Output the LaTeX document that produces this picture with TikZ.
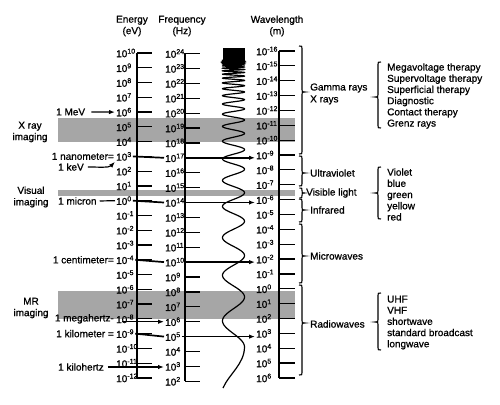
\documentclass[tikz,border=0pt]{standalone}
\usepackage{fontspec}
\setmainfont{Liberation Sans}[BoldFont={Liberation Sans}, BoldFeatures={FakeBold=0.9}]
\usetikzlibrary{arrows.meta, calc}

\tikzset{
  band/.style={fill=black!35},
  scaleline/.style={line width=1.2pt},
  numlab/.style={anchor=west, inner sep=1pt, font=\fontsize{10}{12}\selectfont\bfseries},
  txt/.style={anchor=west, inner sep=1pt, font=\fontsize{10}{11.2}\selectfont\bfseries},
  heading/.style={align=center, inner sep=0pt, font=\fontsize{10}{11.5}\selectfont\bfseries},
  bar/.style={line width=1.7pt},
  arr/.style={-{Latex[length=6pt,width=4.5pt]}},
  brace/.style={line width=1.1pt},
  wave/.style={line width=1.2pt},
}

% brace: x, top, cusp, bottom, width (+ points right, - points left)
\newcommand{\curlybrace}[5]{%
  \draw[brace] ({#1-#5},#2) .. controls (#1,#2) .. (#1,{#2+2.5})
    -- (#1,{#3-2.5}) .. controls (#1,#3) .. ({#1+#5},#3)
    .. controls (#1,#3) .. (#1,{#3+2.5})
    -- (#1,{#4-2.5}) .. controls (#1,#4) .. ({#1-#5},#4);}

\begin{document}
\begin{tikzpicture}[x=1pt, y=-1pt]
\useasboundingbox (0,0) rectangle (500,404);

% imaging bands
\fill[band] (58,118) rectangle (295,142);
\fill[band] (58,190) rectangle (295,196);
\fill[band] (58,291) rectangle (295,319);

% chirped wave
\fill (222.5,48) rectangle (244.5,64);
\draw[wave] plot[variable=\t, domain=1.609:5.677, samples=1000]
  ({233.5+11*sin(1917*\t+7.4)}, {55+exp(\t)})
  .. controls (244.5,364) and (229,374) .. (223,388);

% headings
\node[heading] (energy) at (132,26) {Energy\\(eV)};
\node[heading] (freq) at (182,26) {Frequency\\(Hz)};
\node[heading] (wavelen) at (277,26) {Wavelength\\(m)};

% three scales
\draw[scaleline] (137,53) -- (137,{53+14.77*22});
\draw[scaleline] (185,53.5) -- (185,{53.5+14.9*22});
\draw[scaleline] (279,51) -- (279,{51+14.86*22});
\foreach \k in {0,...,22}{
  \pgfmathtruncatemacro\ee{10-\k}
  \pgfmathtruncatemacro\ff{24-\k}
  \pgfmathtruncatemacro\ww{\k-16}
  \draw[scaleline] (137,{53+14.77*\k}) -- ++(15,0);
  \draw[scaleline] (185,{53.5+14.9*\k}) -- ++(15,0);
  \draw[scaleline] (279,{51+14.86*\k}) -- ++(16,0);
  \node[numlab] (e\k) at (115,{53+14.77*\k}) {10\textsuperscript{\ee}};
  \node[numlab] (f\k) at (164,{53.5+14.9*\k}) {10\textsuperscript{\ff}};
  \node[numlab] (w\k) at (255,{51+14.86*\k}) {10\textsuperscript{\ww}};
}

% imaging labels
\node[heading] (xray) at (30,132) {X ray\\imaging};
\node[heading] (visual) at (31,197) {Visual\\imaging};
\node[heading] (mr) at (31,308) {MR\\imaging};

% reference points
\node[txt] (MeV) at (55,112) {1 MeV};
\draw[scaleline, arr, shorten <=5pt] (MeV.east) -- (e4.west);
\node[txt, anchor=east] (nm) at (e7.west) {1 nanometer=};
\draw[bar] (e7.east) -- (f7.west);
\draw[bar, arr] (f7.east) -- (f7.east -| w7.west);
\node[txt] (keV) at (57,167) {1 keV};
\draw[scaleline, arr, shorten <=3pt] (keV.east) .. controls +(14,0) and +(-6,6) .. (e7.south west);
\node[txt] (micron) at (57,201) {1 micron};
\draw[scaleline, shorten <=2pt] (micron.east) -- (e10.west);
\draw[bar] (e10.east) -- (f10.west);
\draw[bar, arr] (f10.east) -- (f10.east -| w10.west);
\node[txt, anchor=east] (cm) at (e14.west) {1 centimeter=};
\draw[bar] (e14.east) -- (f14.west);
\draw[bar, arr] (f14.east) -- (f14.east -| w14.west);
\node[txt, anchor=east] (MHz) at (e18.west) {1 megahertz-};
\draw[scaleline, arr] ($(e18.west |- f18.west)+(7,0)$) -- (f18.west);
\node[txt, anchor=east] (km) at (e19.west) {1 kilometer =};
\draw[bar] (e19.east) -- (f19.west);
\draw[bar, arr] (f19.east) -- (f19.east -| w19.west);
\node[txt] (kHz) at (57,367) {1 kilohertz};
\draw[scaleline, arr, shorten <=3pt] (kHz.east) -- (kHz.east -| f21.west);

% wavelength bands
\curlybrace{302}{46}{92}{154}{3}
\curlybrace{302}{156}{173}{186}{3}
\curlybrace{302}{188}{193}{198}{2.5}
\curlybrace{302}{199}{210}{222}{3}
\curlybrace{302}{224}{256}{283}{3}
\curlybrace{302}{285}{323}{375}{3}
\node[txt] (gamma) at (309,88) {Gamma rays};
\node[txt] (xrays) at (309,100) {X rays};
\node[txt] (uv) at (309,173) {Ultraviolet};
\node[txt] (vis) at (305,193) {Visible light};
\node[txt] (ir) at (309,210) {Infrared};
\node[txt] (micro) at (309,256) {Microwaves};
\node[txt] (radio) at (309,324) {Radiowaves};

% sub-ranges
\curlybrace{378}{62}{97}{128}{-3}
\curlybrace{378}{167}{193}{219}{-3}
\curlybrace{378}{293}{322}{350}{-3}
\node[txt, align=left] (therapy) at (386,96) {Megavoltage therapy\\Supervoltage therapy\\Superficial therapy\\Diagnostic\\Contact therapy\\Grenz rays};
\node[txt, align=left] (colours) at (386,194.5) {Violet\\blue\\green\\yellow\\red};
\node[txt, align=left] (radiobands) at (386,322.5) {UHF\\VHF\\shortwave\\standard broadcast\\longwave};
\end{tikzpicture}
\end{document}
